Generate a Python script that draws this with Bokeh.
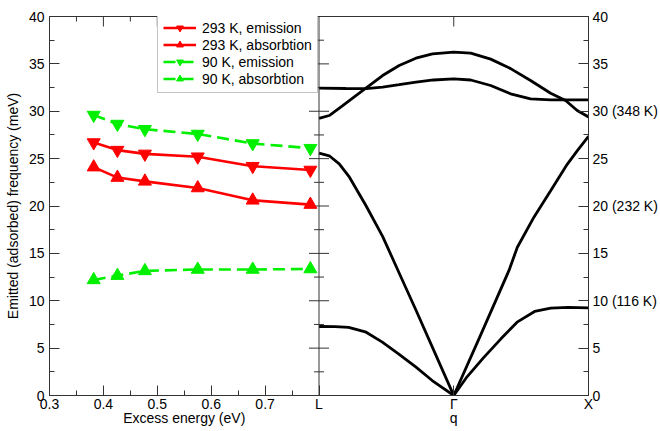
import math
from bokeh.plotting import figure
from bokeh.models import Range1d, LinearAxis, FixedTicker, Legend, LegendItem, Span
from bokeh.embed import file_html
from bokeh.resources import INLINE

# ---------------- data: left panel (excess energy, eV) ----------------
energy = [0.382, 0.426, 0.477, 0.575, 0.677, 0.784]
emis_293 = [26.7, 25.9, 25.5, 25.2, 24.2, 23.8]
abs_293 = [24.1, 23.0, 22.6, 21.9, 20.6, 20.15]
emis_90 = [29.6, 28.65, 28.1, 27.6, 26.6, 26.1]
abs_90 = [12.2, 12.65, 13.15, 13.3, 13.3, 13.35]

# ---------------- data: right panel (phonon dispersion L - Gamma - X) ----------------
# q: 0 = L, 1 = Gamma, 2 = X
ta_q = [0, 0.12, 0.22, 0.35, 0.47, 0.59, 0.72, 0.84, 1.0, 1.10, 1.22, 1.35, 1.47, 1.60, 1.72, 1.85, 2.0]
ta_f = [7.28, 7.27, 7.2, 6.68, 5.63, 4.4, 2.99, 1.58, 0.0, 2.0, 3.97, 5.98, 7.74, 8.87, 9.22, 9.3, 9.25]
la_q = [0, 0.076, 0.15, 0.226, 0.348, 0.472, 0.583, 0.72, 0.86, 1.0, 1.2, 1.41, 1.472, 1.595, 1.719, 1.842, 1.92, 2.0]
la_f = [25.57, 25.3, 24.45, 23.04, 20.05, 16.8, 13.3, 9.0, 4.5, 0.0, 6.4, 13.2, 15.65, 18.82, 21.6, 24.4, 25.9, 27.35]
to_q = [0, 0.2, 0.35, 0.472, 0.595, 0.72, 0.85, 1.0, 1.126, 1.274, 1.422, 1.57, 1.72, 2.0]
to_f = [32.45, 32.4, 32.38, 32.54, 32.8, 33.07, 33.3, 33.42, 33.3, 32.72, 31.84, 31.3, 31.2, 31.2]
lo_q = [0, 0.076, 0.176, 0.274, 0.348, 0.472, 0.595, 0.719, 0.842, 1.0, 1.126, 1.274, 1.422, 1.570, 1.719, 1.830, 1.916, 2.0]
lo_f = [29.25, 29.55, 30.6, 31.66, 32.43, 33.77, 34.83, 35.6, 36.06, 36.23, 36.13, 35.5, 34.5, 33.25, 31.9, 31.13, 30.08, 29.4]

# ---------------- ticks / labels ----------------
y_ticks = [0, 5, 10, 15, 20, 25, 30, 35, 40]
y_minor = [2.5, 7.5, 12.5, 17.5, 22.5, 27.5, 32.5, 37.5]
y_right_labels = {30: "30 (348 K)", 20: "20 (232 K)", 10: "10 (116 K)"}
ev_ticks = [0.3, 0.4, 0.5, 0.6, 0.7, 0.8]
ev_tick_labels = ["0.3", "0.4", "0.5", "0.6", "0.7", "L"]
ev_minor = [0.35, 0.45, 0.55, 0.65, 0.75]
sym_q = [1, 2]
sym_labels = ["\u0393", "X"]
legend_labels = ["293 K, emission", "293 K, absorbtion", "90 K, emission", "90 K, absorbtion"]

FONT = "Liberation Sans"
FS = "14px"
AX = "#333333"

ev_range = Range1d(0.3, 1.3)
q_range = Range1d(-2, 2)

p = figure(width=660, height=431, x_range=ev_range, y_range=Range1d(0, 40),
           output_backend="svg", toolbar_location=None,
           x_axis_location=None, y_axis_location=None,
           min_border_left=49, min_border_right=72, min_border_top=16, min_border_bottom=36)
p.extra_x_ranges = {"q": q_range}
p.xgrid.grid_line_color = None
p.ygrid.grid_line_color = None
p.outline_line_color = AX
p.outline_line_width = 1
p.background_fill_color = "white"


def q_to_ev(q):
    return ev_range.start + (q - q_range.start) * (ev_range.end - ev_range.start) / (q_range.end - q_range.start)


def style(ax):
    ax.axis_line_color = AX
    ax.axis_line_width = 1
    ax.major_tick_line_color = AX
    ax.minor_tick_line_color = AX
    ax.major_tick_in = 10
    ax.major_tick_out = 0
    ax.minor_tick_in = 5
    ax.minor_tick_out = 0
    ax.major_label_text_font = FONT
    ax.major_label_text_color = "black"
    ax.major_label_text_font_size = FS
    ax.axis_label_text_font = FONT
    ax.axis_label_text_font_style = "normal"
    ax.axis_label_text_font_size = FS
    ax.axis_label_text_color = "black"


# left axis
left = LinearAxis(ticker=FixedTicker(ticks=y_ticks, minor_ticks=y_minor),
                  axis_label="Emitted (adsorbed) frequency (meV)")
style(left)
left.major_label_standoff = 5
left.axis_label_standoff = 5
p.add_layout(left, "left")

# right axis
right = LinearAxis(ticker=FixedTicker(ticks=y_ticks, minor_ticks=y_minor))
style(right)
right.major_label_standoff = 4
right.major_label_overrides = y_right_labels
p.add_layout(right, "right")

# bottom axis: ticks
sym_ev = [q_to_ev(q) for q in sym_q]
bot_ticks = ev_ticks + sym_ev
bot_labels = ev_tick_labels + sym_labels
bottom = LinearAxis(ticker=FixedTicker(ticks=bot_ticks, minor_ticks=ev_minor))
style(bottom)
bottom.major_label_standoff = 0
bottom.major_label_overrides = {t: l for t, l in zip(bot_ticks, bot_labels)}
p.add_layout(bottom, "below")

# bottom axis titles row
title_ticks = [(ev_ticks[0] + ev_ticks[-1]) / 2, sym_ev[0]]
title_labels = ["Excess energy (eV)", "q"]
bottom2 = LinearAxis(ticker=FixedTicker(ticks=title_ticks))
style(bottom2)
bottom2.axis_line_color = None
bottom2.major_tick_line_color = None
bottom2.major_tick_in = 0
bottom2.minor_tick_in = 0
bottom2.major_label_standoff = -5
bottom2.major_label_overrides = {t: l for t, l in zip(title_ticks, title_labels)}
p.add_layout(bottom2, "below")

# top ticks (inward, no labels) drawn as vertical dashes clipped by the frame
top_major = ev_ticks[1:-1] + [sym_ev[0]]
p.scatter(x=top_major, y=[40] * len(top_major), marker="dash", angle=math.pi / 2,
          size=20, line_color=AX, line_width=1)
p.scatter(x=ev_minor, y=[40] * len(ev_minor), marker="dash", angle=math.pi / 2,
          size=10, line_color=AX, line_width=1)

# divider between panels, with ticks on both sides
p.add_layout(Span(location=ev_ticks[-1], dimension="height", line_color=AX, line_width=1))
p.scatter(x=[ev_ticks[-1]] * len(y_ticks), y=y_ticks, marker="dash", size=20,
          line_color=AX, line_width=1)
p.scatter(x=[ev_ticks[-1]] * len(y_minor), y=y_minor, marker="dash", size=10,
          line_color=AX, line_width=1)

# dispersion curves
for qq, ff in [(ta_q, ta_f), (la_q, la_f), (to_q, to_f), (lo_q, lo_f)]:
    p.line(qq, ff, x_range_name="q", line_color="black", line_width=2.8)

# experimental series
RED = "#ff0000"
GREEN = "#00f000"
series = [
    (emis_293, RED, "inverted_triangle", "solid"),
    (abs_293, RED, "triangle", "solid"),
    (emis_90, GREEN, "inverted_triangle", "12 6"),
    (abs_90, GREEN, "triangle", "12 6"),
]
items = []
for (vals, col, mk, dash), lab in zip(series, legend_labels):
    r1 = p.line(energy, vals, line_color=col, line_width=2.6, line_dash=dash)
    r2 = p.scatter(energy, vals, marker=mk, size=13, fill_color=col, line_color=col)
    items.append(LegendItem(label=lab, renderers=[r1, r2]))

legend = Legend(items=items, location=(108, 302))
legend.label_text_font = FONT
legend.label_text_font_size = FS
legend.label_text_color = "black"
legend.glyph_width = 33
legend.glyph_height = 17
legend.label_height = 17
legend.label_standoff = 6
legend.padding = 5
legend.spacing = 0
legend.margin = 0
legend.border_line_color = "#888888"
legend.border_line_width = 1
legend.background_fill_color = "white"
legend.background_fill_alpha = 1
p.add_layout(legend)

open("out.html", "w").write(file_html(p, INLINE))
